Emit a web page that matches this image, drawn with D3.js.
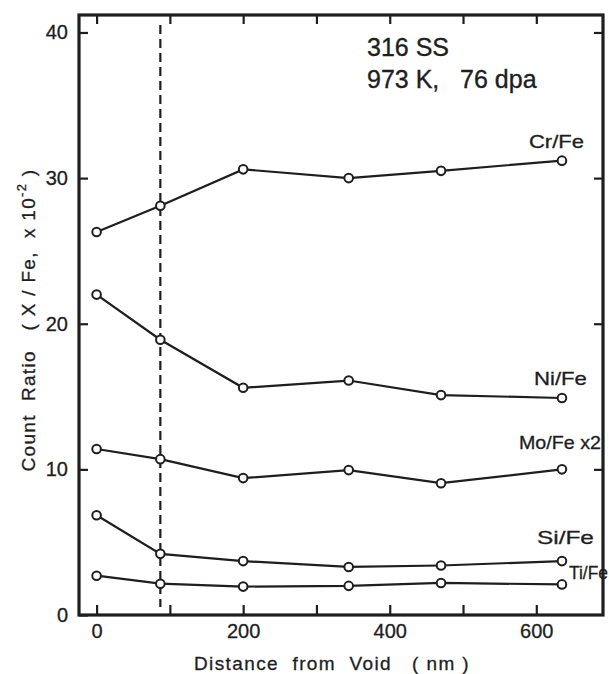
<!DOCTYPE html>
<html>
<head>
<meta charset="utf-8">
<script src="https://cdn.jsdelivr.net/npm/d3@7/dist/d3.min.js"></script>
<style>
  html, body { margin: 0; padding: 0; background: #fff; }
  svg { display: block; }
  text { font-family: "Liberation Sans", Arial, sans-serif; fill: #1e1e1e; }
</style>
</head>
<body>
<svg id="chart" width="609" height="674"></svg>
<script>
// ---- data ----
const distances = [0, 87, 200, 344, 470, 635];          // nm from void
const seriesNames = ["Cr/Fe", "Ni/Fe", "Mo/Fe x2", "Si/Fe", "Ti/Fe"];
const crFe   = [26.3, 28.1, 30.6, 30.0, 30.5, 31.2];
const niFe   = [22.0, 18.9, 15.6, 16.1, 15.1, 14.9];
const moFe2  = [11.4, 10.7, 9.4, 9.95, 9.05, 10.0];
const siFe   = [6.85, 4.2, 3.7, 3.3, 3.4, 3.7];
const tiFe   = [2.7, 2.15, 1.95, 2.0, 2.2, 2.1];
const seriesValues = [crFe, niFe, moFe2, siFe, tiFe];
const xTicks = [0, 100, 200, 300, 400, 500, 600];
const xTickLabels = ["0", "", "200", "", "400", "", "600"];
const yTicks = [0, 10, 20, 30, 40];
const yTickLabels = ["0", "10", "20", "30", "40"];
const boundaryDistance = 87;   // dashed vertical line
const titleLines = ["316 SS", "973 K,   76 dpa"];

// ---- layout ----
const svg = d3.select("#chart");
const L = 79, R = 603, T = 15, B = 615;
const x = d3.scaleLinear().domain([-24, 691]).range([L, R]);
const y = d3.scaleLinear().domain([0, 41.2]).range([B, T]);
const ink = "#1e1e1e";

// axes (inward ticks on all four sides)
const gB = svg.append("g").attr("transform", `translate(0,${B})`)
  .call(d3.axisBottom(x).tickValues(xTicks).tickSizeInner(-10).tickSizeOuter(0).tickPadding(9)
    .tickFormat((d, i) => xTickLabels[i]));
const gT = svg.append("g").attr("transform", `translate(0,${T})`)
  .call(d3.axisTop(x).tickValues(xTicks).tickSizeInner(-9).tickSizeOuter(0).tickFormat(""));
const gL = svg.append("g").attr("transform", `translate(${L},0)`)
  .call(d3.axisLeft(y).tickValues(yTicks).tickSizeInner(-9).tickSizeOuter(0).tickPadding(11)
    .tickFormat((d, i) => yTickLabels[i]));
const gR = svg.append("g").attr("transform", `translate(${R},0)`)
  .call(d3.axisRight(y).tickValues(yTicks.slice(1)).tickSizeInner(-9).tickSizeOuter(0).tickFormat(""));

[gB, gT, gL, gR].forEach(g => {
  g.select(".domain").remove();
  g.selectAll(".tick line").attr("stroke", ink).attr("stroke-width", 2.2);
  g.selectAll(".tick text").attr("font-size", 20).attr("fill", ink)
    .attr("stroke", ink).attr("stroke-width", 0.3)
    .style("font-family", "'Liberation Sans', Arial, sans-serif");
});

// frame
svg.append("rect").attr("x", L).attr("y", T).attr("width", R - L).attr("height", B - T)
  .attr("fill", "none").attr("stroke", ink).attr("stroke-width", 3.2);

// dashed boundary
svg.append("line")
  .attr("x1", x(boundaryDistance)).attr("x2", x(boundaryDistance))
  .attr("y1", T + 10).attr("y2", B - 8)
  .attr("stroke", ink).attr("stroke-width", 2.2).attr("stroke-dasharray", "9,5");

// series lines and markers
const line = d3.line().x((d, i) => x(distances[i])).y(d => y(d));
seriesValues.forEach(vals => {
  svg.append("path").datum(vals).attr("d", line)
    .attr("fill", "none").attr("stroke", ink).attr("stroke-width", 2.2);
  svg.append("g").selectAll("circle").data(vals).join("circle")
    .attr("cx", (d, i) => x(distances[i])).attr("cy", d => y(d)).attr("r", 4.3)
    .attr("fill", "#fff").attr("stroke", ink).attr("stroke-width", 2);
});

// series labels (placed relative to last point)
// [dx, dy, fontSize, textLength]
const labelOffsets = [[-33, -13, 19, 55], [-28, -13, 19, 53], [-43, -20, 19, 82], [-25, -17, 19, 57], [7, -5, 18, 39]];
seriesValues.forEach((vals, k) => {
  const last = vals.length - 1;
  const [dx, dy, fs, tl] = labelOffsets[k];
  svg.append("text")
    .attr("x", x(distances[last]) + dx).attr("y", y(vals[last]) + dy)
    .attr("font-size", fs)
    .attr("textLength", tl).attr("lengthAdjust", "spacingAndGlyphs")
    .attr("stroke", ink).attr("stroke-width", 0.3)
    .text(seriesNames[k]);
});

// title annotation
titleLines.forEach((t, i) => {
  svg.append("text").attr("x", 367).attr("y", 56 + i * 32)
    .attr("font-size", 25).attr("stroke", ink).attr("stroke-width", 0.35)
    .style("white-space", "pre").text(t);
});

// axis titles
svg.append("text")
  .attr("x", 332).attr("y", 670).attr("text-anchor", "middle")
  .attr("font-size", 19).attr("letter-spacing", 1.4).style("white-space", "pre")
  .attr("stroke", ink).attr("stroke-width", 0.3)
  .text("Distance  from  Void   ( nm )");

const yt = svg.append("text")
  .attr("transform", "translate(35,320) rotate(-90)")
  .attr("text-anchor", "middle").attr("font-size", 19).attr("letter-spacing", 1.3)
  .attr("stroke", ink).attr("stroke-width", 0.3)
  .style("white-space", "pre");
yt.append("tspan").text("Count  Ratio   ( X / Fe,  x 10");
yt.append("tspan").attr("font-size", 13).attr("dy", -9).text("-2");
yt.append("tspan").attr("dy", 9).text(" )");
</script>
</body>
</html>
